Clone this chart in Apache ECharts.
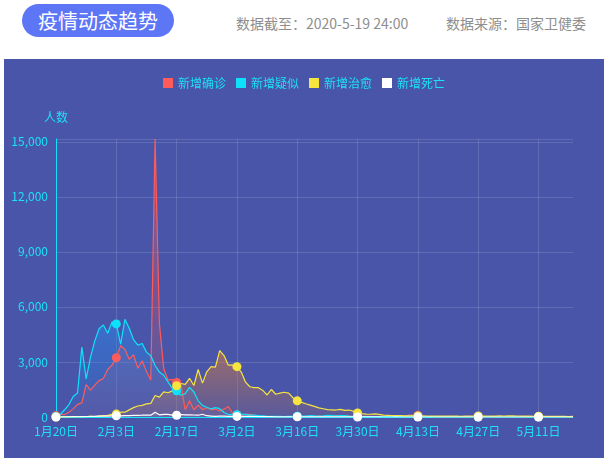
<!DOCTYPE html>
<html>
<head>
<meta charset="utf-8">
<script src="https://cdn.jsdelivr.net/npm/echarts@6/dist/echarts.min.js"></script>
<style>
    html, body { margin: 0; padding: 0; background: #fff; width: 609px; height: 465px; overflow: hidden; }
    body { position: relative; font-family: "Noto Sans CJK SC", "Noto Sans", sans-serif; }
    .pill {
        position: absolute; left: 22px; top: 4px; width: 152px; height: 33px;
        border-radius: 17px; background: #5c76f6; color: #fff;
        font-size: 20px; line-height: 33px; text-align: center;
    }
    .info { position: absolute; top: 13px; font-size: 14px; line-height: 20px; color: #8e8e8e; }
    #trendChart { position: absolute; left: 4px; top: 59px; width: 600px; height: 399px; }
</style>
</head>
<body>
<div class="pill">疫情动态趋势</div>
<div class="info" style="left:236px;">数据截至：2020-5-19 24:00</div>
<div class="info" style="left:446px;">数据来源：国家卫健委</div>
<div id="trendChart"></div>
<script>
// 每日数据：1月20日 ~ 5月19日
const startDay = new Date(2020, 0, 20);
const dayCount = 121;
const dates = [];
for (let i = 0; i < dayCount; i++) {
    const d = new Date(startDay.getTime() + i * 86400000);
    dates.push((d.getMonth() + 1) + '月' + d.getDate() + '日');
}

const seriesNames = ['新增确诊', '新增疑似', '新增治愈', '新增死亡'];
const seriesColors = ['#ff5b5b', '#0ee2fb', '#f6e43f', '#ffffff'];
// 面积渐变：顶部 / 底部颜色
const areaTop = ['rgba(255,90,90,0.6)', 'rgba(40,140,240,0.7)', 'rgba(235,130,50,0.72)', 'rgba(255,255,255,0.35)'];
const areaBottom = ['rgba(255,90,90,0.12)', 'rgba(40,140,240,0.12)', 'rgba(235,130,50,0.15)', 'rgba(255,255,255,0)'];

const newConfirmed = [
    77, 149, 131, 259, 444, 688, 769, 1771, 1459, 1737, 1982, 2102,
    2590, 2829, 3235, 3887, 3694, 3143, 3399, 2656, 3062, 2478, 2015, 15152, 5090, 2641, 2009, 2048, 1886, 1749,
    394, 889, 397, 648, 409, 508, 406, 433, 327, 427, 573,
    202, 125, 119, 139, 143, 99, 44, 40, 19, 24, 15, 8, 11, 20, 16, 21, 13, 34, 39, 41, 46, 39, 78, 47, 67, 55, 54, 45, 31, 48, 36,
    35, 31, 19, 30, 39, 32, 62, 63, 42, 46, 99, 108, 89, 46, 26, 27, 16, 12, 11, 11, 30, 10, 6, 11, 12, 3, 6, 22, 4, 12,
    2, 1, 3, 3, 1, 2, 2, 1, 14, 17, 1, 7, 3, 4, 5, 8, 5, 6, 6
];
const newSuspected = [
    27, 150, 393, 680, 1118, 1309, 3806, 2077, 3248, 4148, 4812, 5019,
    4562, 5173, 5072, 3971, 5328, 4833, 4214, 3916, 4008, 3536, 3342, 2807, 2450, 2277, 1918, 1563, 1432, 1185,
    1277, 1614, 1361, 882, 620, 530, 439, 508, 452, 248, 132,
    141, 129, 143, 143, 102, 99, 73, 60, 36, 31, 33, 33, 17, 39, 41, 45, 45, 45, 73, 57, 49, 64, 86, 76, 61, 73, 73, 45, 33, 29, 26,
    21, 22, 21, 18, 19, 21, 24, 35, 20, 40, 60, 72, 41, 27, 15, 19, 16, 10, 9, 8, 11, 6, 8, 10, 8, 2, 3, 3, 4, 1,
    4, 2, 1, 1, 5, 2, 1, 2, 3, 2, 0, 2, 2, 3, 3, 2, 1, 2, 3
];
const newRecovered = [
    0, 0, 3, 6, 3, 11, 2, 9, 43, 21, 47, 72,
    85, 147, 157, 262, 261, 387, 510, 600, 632, 716, 744, 1171, 1081, 1373, 1323, 1425, 1701, 1824,
    1779, 2109, 1717, 2589, 1845, 2464, 2750, 2715, 3622, 3346, 2823,
    2837, 2742, 2450, 1900, 1650, 1600, 1600, 1450, 1200, 1500, 1240, 1300, 1350, 1300, 1050, 880, 800, 720, 650, 580, 500, 450, 400, 390, 380, 420, 360, 380, 320, 216, 180,
    160, 150, 170, 140, 100, 90, 80, 75, 70, 65, 60, 60, 55, 60, 55, 50, 55, 50, 45, 50, 45, 50, 40, 45, 50, 55, 60, 50, 55, 45,
    50, 60, 55, 65, 60, 55, 50, 45, 50, 40, 45, 40, 35, 40, 30, 35, 30, 25, 30
];
const newDeath = [
    0, 3, 8, 8, 16, 15, 24, 26, 26, 38, 43, 46,
    45, 57, 64, 65, 73, 73, 86, 89, 97, 108, 97, 254, 121, 143, 142, 105, 98, 136,
    114, 118, 109, 97, 150, 71, 52, 29, 44, 47, 35,
    42, 31, 38, 31, 30, 28, 27, 22, 17, 22, 11, 7, 13, 10, 14, 13, 11, 8, 3, 7, 6, 9, 7, 4, 6, 5, 3, 5, 4, 1, 7,
    6, 4, 4, 4, 1, 1, 0, 2, 1, 0, 0, 0, 2, 0, 0, 0, 1, 0, 0, 0, 0, 0, 0, 0, 0, 0, 0, 0, 0, 0,
    0, 0, 0, 0, 0, 0, 0, 0, 0, 0, 0, 0, 0, 0, 0, 0, 0, 0, 0
];
const seriesValues = [newConfirmed, newSuspected, newRecovered, newDeath];

const yTicks = { min: 0, interval: 3000 };

function initTrendChart() {
    const chartDom = document.getElementById('trendChart');
    const myChart = echarts.init(chartDom);
    const labelColor = '#1ee0f6';

    const option = {
        backgroundColor: '#4855a8',
        textStyle: { fontFamily: '"Noto Sans CJK SC", sans-serif' },
        legend: {
            top: 13,
            icon: 'rect',
            itemWidth: 10,
            itemHeight: 10,
            itemGap: 10,
            textStyle: { color: labelColor, fontSize: 12 },
            data: seriesNames
        },
        grid: { left: 52, right: 31, top: 80, bottom: 41 },
        xAxis: {
            type: 'category',
            boundaryGap: false,
            data: dates,
            axisLine: { lineStyle: { color: '#0ee2fb', width: 1 } },
            axisTick: { show: false },
            axisLabel: { interval: 13, color: labelColor, fontSize: 12, margin: 8 },
            splitLine: { show: true, interval: 13, lineStyle: { color: 'rgba(255,255,255,0.13)' } }
        },
        yAxis: {
            type: 'value',
            name: '人数',
            nameGap: 16,
            nameTextStyle: { color: labelColor, fontSize: 12, align: 'center' },
            min: yTicks.min,
            max: 'dataMax',
            interval: yTicks.interval,
            axisLine: { show: true, lineStyle: { color: '#0ee2fb' } },
            axisTick: { show: false },
            axisLabel: { color: labelColor, fontSize: 12, margin: 8, showMaxLabel: false },
            splitLine: { lineStyle: { color: 'rgba(255,255,255,0.13)' } }
        },
        series: seriesNames.map((name, i) => ({
            name: name,
            type: 'line',
            data: seriesValues[i],
            symbol: 'circle',
            symbolSize: 9,
            showSymbol: true,
            itemStyle: { color: seriesColors[i] },
            lineStyle: { width: 1.2, color: seriesColors[i] },
            areaStyle: {
                color: new echarts.graphic.LinearGradient(0, 0, 0, 1, [
                    { offset: 0, color: areaTop[i] },
                    { offset: 1, color: areaBottom[i] }
                ])
            }
        }))
    };

    myChart.setOption(option);
}

initTrendChart();
</script>
</body>
</html>
